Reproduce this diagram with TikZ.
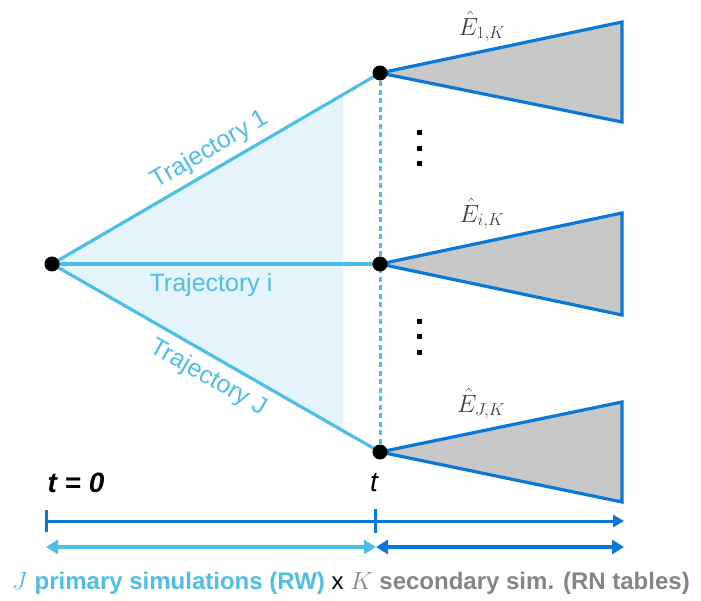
\documentclass[tikz,border=0pt]{standalone}
\usepackage{fontspec}
\setmainfont{Liberation Sans}
\usetikzlibrary{arrows.meta}
\definecolor{lb}{HTML}{4FBEE6}
\definecolor{db}{HTML}{0A78D7}
\definecolor{shadefill}{HTML}{E4F4FA}
\definecolor{trigrey}{HTML}{C8C8C8}
\definecolor{gtext}{HTML}{858585}
\pgfdeclarelayer{bg}
\pgfsetlayers{bg,main}
\tikzset{
  dot/.style={circle,fill=black,inner sep=0pt,minimum size=15pt},
  sq/.style={rectangle,fill=black,inner sep=0pt,minimum size=5pt},
  trajline/.style={draw=lb,line width=3.2pt},
  cone/.style={draw=db,fill=trigrey,line width=3.2pt,line join=miter},
  trajlabel/.style={text=lb,font=\fontsize{25}{30}\selectfont,inner sep=0pt},
  elabel/.style={text=black!75,font=\fontsize{25}{30}\selectfont,inner sep=0pt},
}
\begin{document}
\begin{tikzpicture}[x=1pt,y=-1pt]
\useasboundingbox (0,0) rectangle (701,601);
% dots
\node[dot] (O) at (52,264) {};
\node[dot] (A) at (380,73) {};
\node[dot] (B) at (380,264) {};
\node[dot] (C) at (380,452) {};
% cone corners
\coordinate (A1) at (622,22);  \coordinate (A2) at (622,122);
\coordinate (B1) at (622,213); \coordinate (B2) at (622,315);
\coordinate (C1) at (622,402); \coordinate (C2) at (622,502);
\begin{pgfonlayer}{bg}
  \fill[shadefill] (O.center) -- (343,94.5) -- (343,430.8) -- cycle;
  \draw[trajline] (O.center) -- (A.center);
  \draw[trajline] (O.center) -- (B.center);
  \draw[trajline] (O.center) -- (C.center);
  \draw[lb,line width=3pt,dash pattern=on 5pt off 3.5pt] (A.center) -- (C.center);
  \draw[cone] (A.center) -- (A1) -- (A2) -- cycle;
  \draw[cone] (B.center) -- (B1) -- (B2) -- cycle;
  \draw[cone] (C.center) -- (C1) -- (C2) -- cycle;
\end{pgfonlayer}
% trajectory labels
\node[trajlabel,rotate=30.2] (l1) at (210,150) {Trajectory 1};
\node[trajlabel] (li) at (211,285) {Trajectory i};
\node[trajlabel,rotate=-29.8] (lJ) at (208,378) {Trajectory J};
% estimator labels
\node[elabel] (e1) at (482,27) {$\hat{E}_{1,K}$};
\node[elabel] (ei) at (482,214) {$\hat{E}_{i,K}$};
\node[elabel] (eJ) at (481,404) {$\hat{E}_{J,K}$};
% vertical dots
\node[sq] (d1) at (419,133) {};
\node[sq] (d2) at (419,148.5) {};
\node[sq] (d3) at (419,164) {};
\node[sq] (d4) at (419,322) {};
\node[sq] (d5) at (419,337) {};
\node[sq] (d6) at (419,352) {};
% time labels
\node[font=\fontsize{28}{32}\selectfont\bfseries\itshape,inner sep=0pt] (t0) at (76,483) {t = 0};
\node[font=\fontsize{28}{32}\selectfont\itshape,inner sep=0pt] (tt) at (374,483) {t};
% timeline
\coordinate (T0) at (46,521);
\coordinate (Tt) at (375,521);
\coordinate (Te) at (624,521);
\draw[db,line width=3pt,-{Triangle[length=11pt,width=12pt]}] (T0) -- (Te);
\draw[db,line width=3pt] ([yshift=-11pt]T0) -- ([yshift=11pt]T0);
\draw[db,line width=3pt] ([yshift=-12pt]Tt) -- ([yshift=12pt]Tt);
% double arrows
\coordinate (P0) at (46,547);
\coordinate (Pt) at (376,547);
\coordinate (Pe) at (624,547);
\draw[lb,line width=4.5pt,{Triangle[length=12pt,width=14pt]}-{Triangle[length=12pt,width=14pt]}] (P0) -- (Pt);
\draw[db,line width=4.5pt,{Triangle[length=12pt,width=14pt]}-{Triangle[length=12pt,width=14pt]}] (Pt) -- (Pe);
% bottom caption
\node[font=\fontsize{24}{28}\selectfont,inner sep=0pt] (cap) at (351,583)
  {\textcolor{lb}{$J$ \textbf{primary simulations (RW)}} x \textcolor{gtext}{$K$ \textbf{secondary sim. (RN tables)}}};
\end{tikzpicture}
\end{document}
